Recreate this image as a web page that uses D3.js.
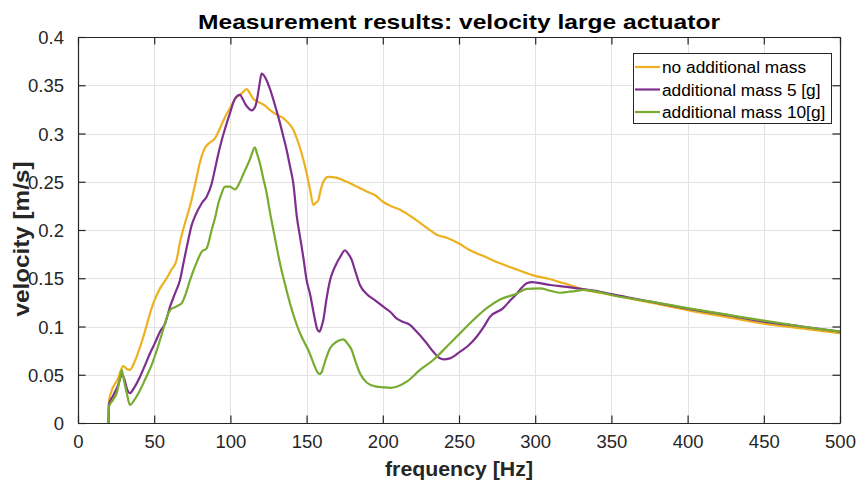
<!DOCTYPE html>
<html>
<head>
<meta charset="utf-8">
<script src="https://cdn.jsdelivr.net/npm/d3@7"></script>
<style>
  html, body { margin: 0; padding: 0; background: #fff; }
  svg { display: block; font-family: "Liberation Sans", Arial, Helvetica, sans-serif; }
</style>
</head>
<body>
<svg id="chart" width="858" height="486"></svg>
<script>
const title = "Measurement results: velocity large actuator";
const xLabel = "frequency [Hz]";
const yLabel = "velocity [m/s]";
const xTicks = [0, 50, 100, 150, 200, 250, 300, 350, 400, 450, 500];
const yTicks = [0, 0.05, 0.1, 0.15, 0.2, 0.25, 0.3, 0.35, 0.4];
const seriesNames = ["no additional mass", "additional mass 5 [g]", "additional mass 10[g]"];
const seriesColors = ["#EDB120", "#7E2F8E", "#77AC30"];

// [frequency Hz, velocity m/s]
const noMass = [[20,0],[20.3,0.022],[22,0.033],[26,0.045],[29.7,0.059],[32,0.056],[34,0.055],[37,0.063],[42,0.085],[49.4,0.124],[54,0.140],[58.2,0.150],[61,0.158],[64.7,0.169],[67,0.188],[70.2,0.207],[74,0.228],[77.9,0.255],[80,0.270],[83.3,0.285],[86,0.290],[89.9,0.295],[93,0.305],[96.5,0.317],[100,0.327],[103,0.336],[107,0.341],[110.7,0.346],[113,0.341],[115,0.336],[118,0.333],[121.6,0.330],[127.1,0.323],[131,0.319],[134.7,0.316],[138,0.311],[141.3,0.304],[144,0.293],[146.8,0.279],[150,0.259],[152.5,0.240],[154.4,0.226],[156,0.228],[157.7,0.231],[159,0.240],[161,0.250],[164.3,0.255],[170,0.254],[176.3,0.250],[183,0.245],[189.4,0.240],[195,0.236],[200.3,0.229],[205,0.225],[211.3,0.221],[222.2,0.210],[230,0.201],[235.4,0.195],[241.9,0.192],[250,0.186],[257.2,0.179],[266,0.173],[276.9,0.1655],[288,0.159],[298.8,0.153],[310,0.149],[316,0.146],[320.7,0.144],[330,0.139],[342.5,0.135],[350,0.1326],[375,0.125],[400,0.117],[425,0.110],[450,0.103],[475,0.098],[500,0.093]];

const mass5 = [[20,0],[20.3,0.019],[23,0.028],[26,0.038],[29,0.050],[30.5,0.045],[32,0.036],[34,0.031],[37,0.037],[40.7,0.048],[44,0.060],[47.2,0.072],[50.5,0.083],[53.8,0.0946],[57.1,0.103],[60.4,0.1205],[63.6,0.134],[66.9,0.148],[69.5,0.168],[72.4,0.190],[74.6,0.205],[77,0.215],[81.2,0.2277],[84.4,0.2345],[87.7,0.248],[90,0.264],[92.1,0.279],[94.3,0.293],[96.5,0.305],[99.7,0.321],[103,0.336],[106.3,0.340],[108,0.336],[109.6,0.331],[112,0.326],[114,0.324],[116,0.327],[117.2,0.333],[118.8,0.348],[120.5,0.362],[123.8,0.355],[126,0.346],[128.2,0.335],[130.4,0.323],[132.5,0.311],[134.7,0.297],[136.9,0.283],[139.1,0.266],[141.3,0.248],[143.5,0.215],[146,0.190],[148,0.170],[150,0.148],[152.2,0.134],[155.5,0.107],[157,0.097],[158.4,0.0946],[160,0.101],[161,0.107],[163,0.128],[165.4,0.148],[167.5,0.158],[169.7,0.1655],[172,0.172],[175.2,0.179],[177,0.176],[179.6,0.169],[182,0.157],[185,0.143],[189.4,0.1337],[195,0.127],[200.3,0.1205],[205,0.115],[209,0.1085],[213,0.105],[217.8,0.1016],[222,0.095],[228.8,0.0826],[233,0.074],[237.5,0.067],[240,0.066],[244,0.067],[250.7,0.0739],[256,0.080],[261.6,0.0894],[266,0.099],[270.3,0.110],[279,0.119],[283,0.126],[287.9,0.134],[291,0.140],[294.4,0.1448],[298,0.146],[301,0.1454],[310,0.143],[320.7,0.141],[330,0.139],[342.5,0.136],[350,0.1335],[375,0.126],[400,0.1185],[425,0.112],[450,0.105],[475,0.100],[500,0.0946]];

const mass10 = [[20,0],[20.3,0.017],[23,0.024],[25.4,0.031],[27,0.042],[28.7,0.055],[30.3,0.043],[32,0.031],[34.1,0.0187],[37,0.024],[40.7,0.034],[44,0.045],[48.3,0.060],[51,0.072],[53.8,0.086],[56.5,0.100],[59.3,0.1137],[61,0.118],[63.6,0.120],[66,0.122],[68,0.124],[70.5,0.133],[73.5,0.148],[77,0.163],[81.2,0.1775],[84.4,0.181],[87.7,0.200],[90,0.213],[92.1,0.2277],[94,0.237],[96.5,0.245],[99.7,0.245],[103,0.242],[106.3,0.250],[108.5,0.258],[110.7,0.2656],[113,0.274],[116.1,0.2857],[117.5,0.279],[119.4,0.269],[121.5,0.254],[123.8,0.238],[126,0.218],[128.2,0.200],[130.3,0.183],[132.5,0.1655],[135.8,0.144],[139.1,0.124],[142.4,0.107],[145.7,0.093],[148.4,0.084],[151.1,0.0756],[153.3,0.067],[155.5,0.058],[157,0.053],[158.4,0.0508],[160,0.053],[161,0.058],[163,0.068],[165.4,0.0774],[169.7,0.0842],[174.1,0.0867],[177,0.082],[179.6,0.0756],[182,0.064],[185,0.0515],[189.4,0.042],[195,0.038],[200.3,0.037],[205,0.0365],[209,0.0376],[215.7,0.0428],[224.4,0.055],[233.1,0.0653],[241.9,0.079],[250.7,0.093],[259.4,0.1067],[268.2,0.119],[276.9,0.128],[287.9,0.134],[294.4,0.1389],[303.1,0.1396],[310,0.137],[316.3,0.135],[322,0.136],[327.2,0.137],[331.6,0.138],[342.5,0.1355],[350,0.1326],[375,0.126],[400,0.119],[425,0.1125],[450,0.106],[475,0.100],[500,0.0946]];

const seriesData = [noMass, mass5, mass10];

const svg = d3.select("#chart");
const L = 78, R = 840, T = 37, B = 423;
const x = d3.scaleLinear().domain([0, 500]).range([L, R]);
const y = d3.scaleLinear().domain([0, 0.4]).range([B, T]);
const axisColor = "#262626";
const tickLen = 7.6;

// grid
const grid = svg.append("g");
grid.selectAll(".gx").data(xTicks.slice(1, -1)).join("line")
  .attr("x1", d => Math.round(x(d)) + 0.5).attr("x2", d => Math.round(x(d)) + 0.5)
  .attr("y1", T).attr("y2", B).attr("stroke", "#e3e3e3").attr("stroke-width", 1);
grid.selectAll(".gy").data(yTicks.slice(1, -1)).join("line")
  .attr("y1", d => Math.round(y(d)) + 0.5).attr("y2", d => Math.round(y(d)) + 0.5)
  .attr("x1", L).attr("x2", R).attr("stroke", "#e3e3e3").attr("stroke-width", 1);

// lines
const line = d3.line().curve(d3.curveMonotoneX).x(d => x(d[0])).y(d => y(d[1]));
const lines = svg.append("g");
seriesData.forEach((s, i) => {
  lines.append("path").datum(s).attr("d", line)
    .attr("fill", "none").attr("stroke", seriesColors[i])
    .attr("stroke-width", 2.2).attr("stroke-linejoin", "round");
});

// axes (inward ticks, box)
const fmtY = d => d3.format("~g")(d);
const axB = svg.append("g").attr("transform", `translate(0,${B})`)
  .call(d3.axisBottom(x).tickValues(xTicks).tickSizeInner(-tickLen).tickSizeOuter(0).tickPadding(12));
const axT = svg.append("g").attr("transform", `translate(0,${T})`)
  .call(d3.axisTop(x).tickValues(xTicks).tickSizeInner(-tickLen).tickSizeOuter(0).tickFormat(""));
const axL = svg.append("g").attr("transform", `translate(${L},0)`)
  .call(d3.axisLeft(y).tickValues(yTicks).tickSizeInner(-tickLen).tickSizeOuter(0).tickPadding(14).tickFormat(fmtY));
const axR = svg.append("g").attr("transform", `translate(${R},0)`)
  .call(d3.axisRight(y).tickValues(yTicks).tickSizeInner(-tickLen).tickSizeOuter(0).tickFormat(""));
[axB, axT, axL, axR].forEach(g => {
  g.selectAll("path.domain").attr("stroke", axisColor).attr("stroke-width", 1.2);
  g.selectAll(".tick line").attr("stroke", axisColor).attr("stroke-width", 1.2);
  g.selectAll("text").attr("fill", axisColor).style("font-size", "18.5px")
    .style("font-family", "'Liberation Sans', Arial, sans-serif");
});
axL.selectAll("text").attr("dy", "0.36em");

// title and labels
svg.append("text").attr("x", 459).attr("y", 29).attr("text-anchor", "middle")
  .attr("textLength", 522).attr("lengthAdjust", "spacingAndGlyphs")
  .style("font-weight", "bold").style("font-size", "21px").attr("fill", "#000").text(title);
svg.append("text").attr("x", (L + R) / 2).attr("y", 476).attr("text-anchor", "middle")
  .attr("textLength", 148).attr("lengthAdjust", "spacingAndGlyphs")
  .style("font-weight", "bold").style("font-size", "21px").attr("fill", axisColor).text(xLabel);
svg.append("text").attr("transform", `translate(29,239) rotate(-90)`).attr("text-anchor", "middle")
  .attr("textLength", 155).attr("lengthAdjust", "spacingAndGlyphs")
  .style("font-weight", "bold").style("font-size", "21.5px").attr("fill", axisColor).text(yLabel);

// legend
const lg = svg.append("g");
lg.append("rect").attr("x", 633.5).attr("y", 53.5).attr("width", 198).attr("height", 70)
  .attr("fill", "#fff").attr("stroke", axisColor).attr("stroke-width", 1);
const rowsY = [67, 89.5, 112];
seriesNames.forEach((n, i) => {
  lg.append("line").attr("x1", 635).attr("x2", 660).attr("y1", rowsY[i]).attr("y2", rowsY[i])
    .attr("stroke", seriesColors[i]).attr("stroke-width", 2.2);
  lg.append("text").attr("x", 662).attr("y", rowsY[i]).attr("dy", "0.36em")
    .style("font-size", "17.3px").attr("fill", "#000").text(n);
});
</script>
</body>
</html>
